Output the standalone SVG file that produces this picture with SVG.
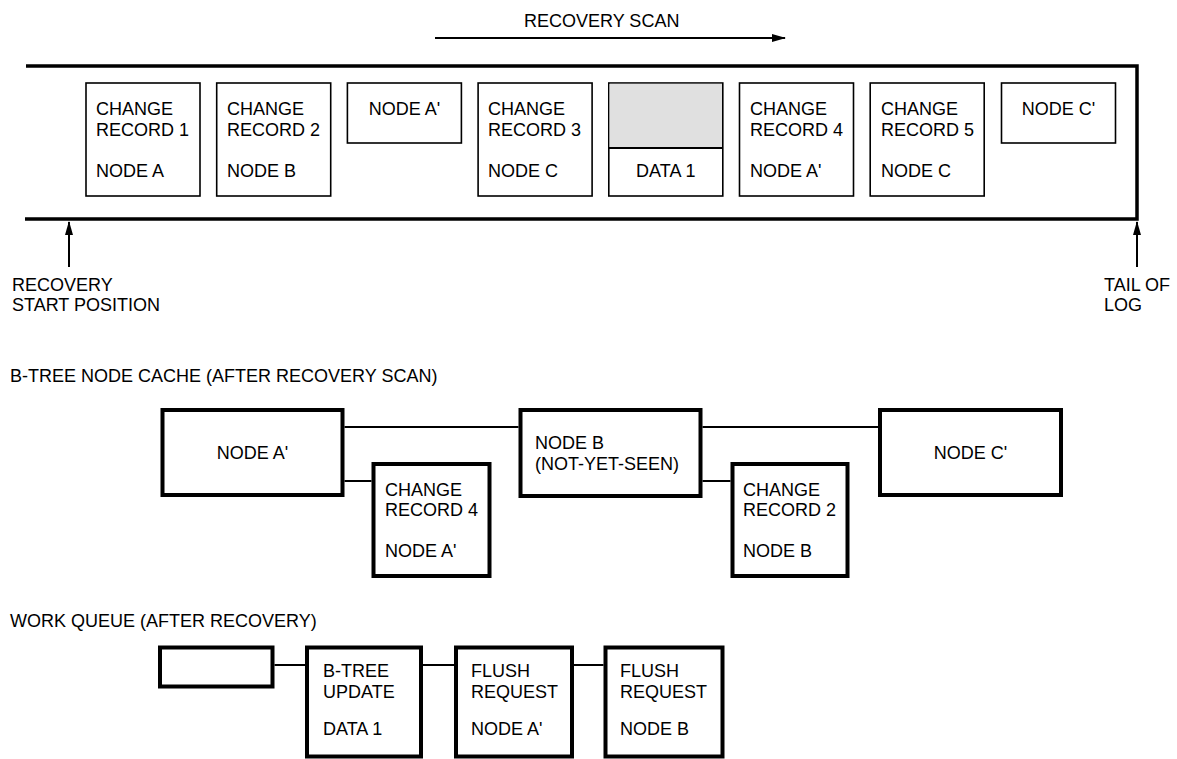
<svg xmlns="http://www.w3.org/2000/svg" width="1177" height="759" viewBox="0 0 1177 759">
<style>
text{font-family:"Liberation Sans",Arial,sans-serif;font-size:18px;fill:#000}
.c{text-anchor:middle}
.thin{fill:#fff;stroke:#000;stroke-width:1.6}
.thick{fill:#fff;stroke:#000;stroke-width:4}
.log{fill:none;stroke:#000;stroke-width:3.5}
.ln{fill:none;stroke:#000;stroke-width:2}
</style>
<defs>
<marker id="ah" markerWidth="14" markerHeight="8" refX="13" refY="4" orient="auto" markerUnits="userSpaceOnUse">
<path d="M0,0 L14,4 L0,8 Z" fill="#000"/>
</marker>
</defs>
<rect width="1177" height="759" fill="#fff"/>
<g id="scan-label">
<text x="524" y="27">RECOVERY SCAN</text>
</g>
<g id="log">
<path class="log" d="M26,66 H1137 V219 H25"/>
</g>
<g id="log-cr1"><rect class="thin" x="86" y="83" width="114" height="113"/><text x="96" y="115">CHANGE</text><text x="96" y="136">RECORD 1</text><text x="96" y="177">NODE A</text></g>
<g id="log-cr2"><rect class="thin" x="216.7" y="83" width="114" height="113"/><text x="227" y="115">CHANGE</text><text x="227" y="136">RECORD 2</text><text x="227" y="177">NODE B</text></g>
<g id="log-nodeA"><rect class="thin" x="347.4" y="83" width="114" height="60"/><text class="c" x="404.4" y="115">NODE A'</text></g>
<g id="log-cr3"><rect class="thin" x="478.1" y="83" width="114" height="113"/><text x="488" y="115">CHANGE</text><text x="488" y="136">RECORD 3</text><text x="488" y="177">NODE C</text></g>
<g id="log-data1"><rect class="thin" x="608.8" y="83" width="114" height="113"/><rect x="609.6" y="83.8" width="112.4" height="64.2" fill="#e0e0e0"/><line class="ln" x1="608.8" y1="148" x2="722.8" y2="148" stroke-width="1.6"/><text class="c" x="665.8" y="177">DATA 1</text></g>
<g id="log-cr4"><rect class="thin" x="739.5" y="83" width="114" height="113"/><text x="750" y="115">CHANGE</text><text x="750" y="136">RECORD 4</text><text x="750" y="177">NODE A'</text></g>
<g id="log-cr5"><rect class="thin" x="870.2" y="83" width="114" height="113"/><text x="881" y="115">CHANGE</text><text x="881" y="136">RECORD 5</text><text x="881" y="177">NODE C</text></g>
<g id="log-nodeC"><rect class="thin" x="1001.5" y="83" width="114" height="60"/><text class="c" x="1058.5" y="115">NODE C'</text></g>
<g id="start-label"><text x="12" y="291">RECOVERY</text><text x="12" y="311">START POSITION</text></g>
<g id="tail-label"><text x="1104" y="291">TAIL OF</text><text x="1104" y="311">LOG</text></g>
<g id="cache-title"><text x="10" y="382">B-TREE NODE CACHE (AFTER RECOVERY SCAN)</text></g>
<g id="cache-nodeA"><rect class="thick" x="162.5" y="410" width="180" height="85"/><text class="c" x="252.5" y="459">NODE A'</text></g>
<g id="cache-cr4"><rect class="thick" x="373.5" y="464" width="116" height="112"/><text x="385" y="496">CHANGE</text><text x="385" y="516">RECORD 4</text><text x="385" y="557">NODE A'</text></g>
<g id="cache-nodeB"><rect class="thick" x="520.5" y="410" width="180" height="86"/><text x="535" y="449">NODE B</text><text x="535" y="470">(NOT-YET-SEEN)</text></g>
<g id="cache-cr2"><rect class="thick" x="732.5" y="464" width="115" height="112"/><text x="743" y="496">CHANGE</text><text x="743" y="516">RECORD 2</text><text x="743" y="557">NODE B</text></g>
<g id="cache-nodeC"><rect class="thick" x="880" y="410" width="181" height="85"/><text class="c" x="970.5" y="459">NODE C'</text></g>
<g id="queue-title"><text x="10" y="627">WORK QUEUE (AFTER RECOVERY)</text></g>
<g id="queue-head"><rect class="thick" x="160" y="647.5" width="112.5" height="39"/></g>
<g id="queue-btree"><rect class="thick" x="307" y="647.5" width="114" height="109"/><text x="323" y="677">B-TREE</text><text x="323" y="698">UPDATE</text><text x="323" y="735">DATA 1</text></g>
<g id="queue-flushA"><rect class="thick" x="456" y="647.5" width="116" height="109"/><text x="471" y="677">FLUSH</text><text x="471" y="698">REQUEST</text><text x="471" y="735">NODE A'</text></g>
<g id="queue-flushB"><rect class="thick" x="605.5" y="647.5" width="117" height="109"/><text x="620" y="677">FLUSH</text><text x="620" y="698">REQUEST</text><text x="620" y="735">NODE B</text></g>
<g id="connectors">
<line class="ln" x1="435" y1="38" x2="785" y2="38" marker-end="url(#ah)"/>
<line class="ln" x1="69" y1="267" x2="69" y2="222" marker-end="url(#ah)"/>
<line class="ln" x1="1137" y1="267" x2="1137" y2="222" marker-end="url(#ah)"/>
<line class="ln" x1="344.5" y1="427" x2="518.5" y2="427"/>
<line class="ln" x1="702.5" y1="427" x2="878" y2="427"/>
<line class="ln" x1="344.5" y1="481" x2="371.5" y2="481"/>
<line class="ln" x1="702.5" y1="481" x2="730.5" y2="481"/>
<line class="ln" x1="274.5" y1="665" x2="305" y2="665"/>
<line class="ln" x1="423" y1="665" x2="454" y2="665"/>
<line class="ln" x1="574" y1="665" x2="603.5" y2="665"/>
</g>
</svg>
